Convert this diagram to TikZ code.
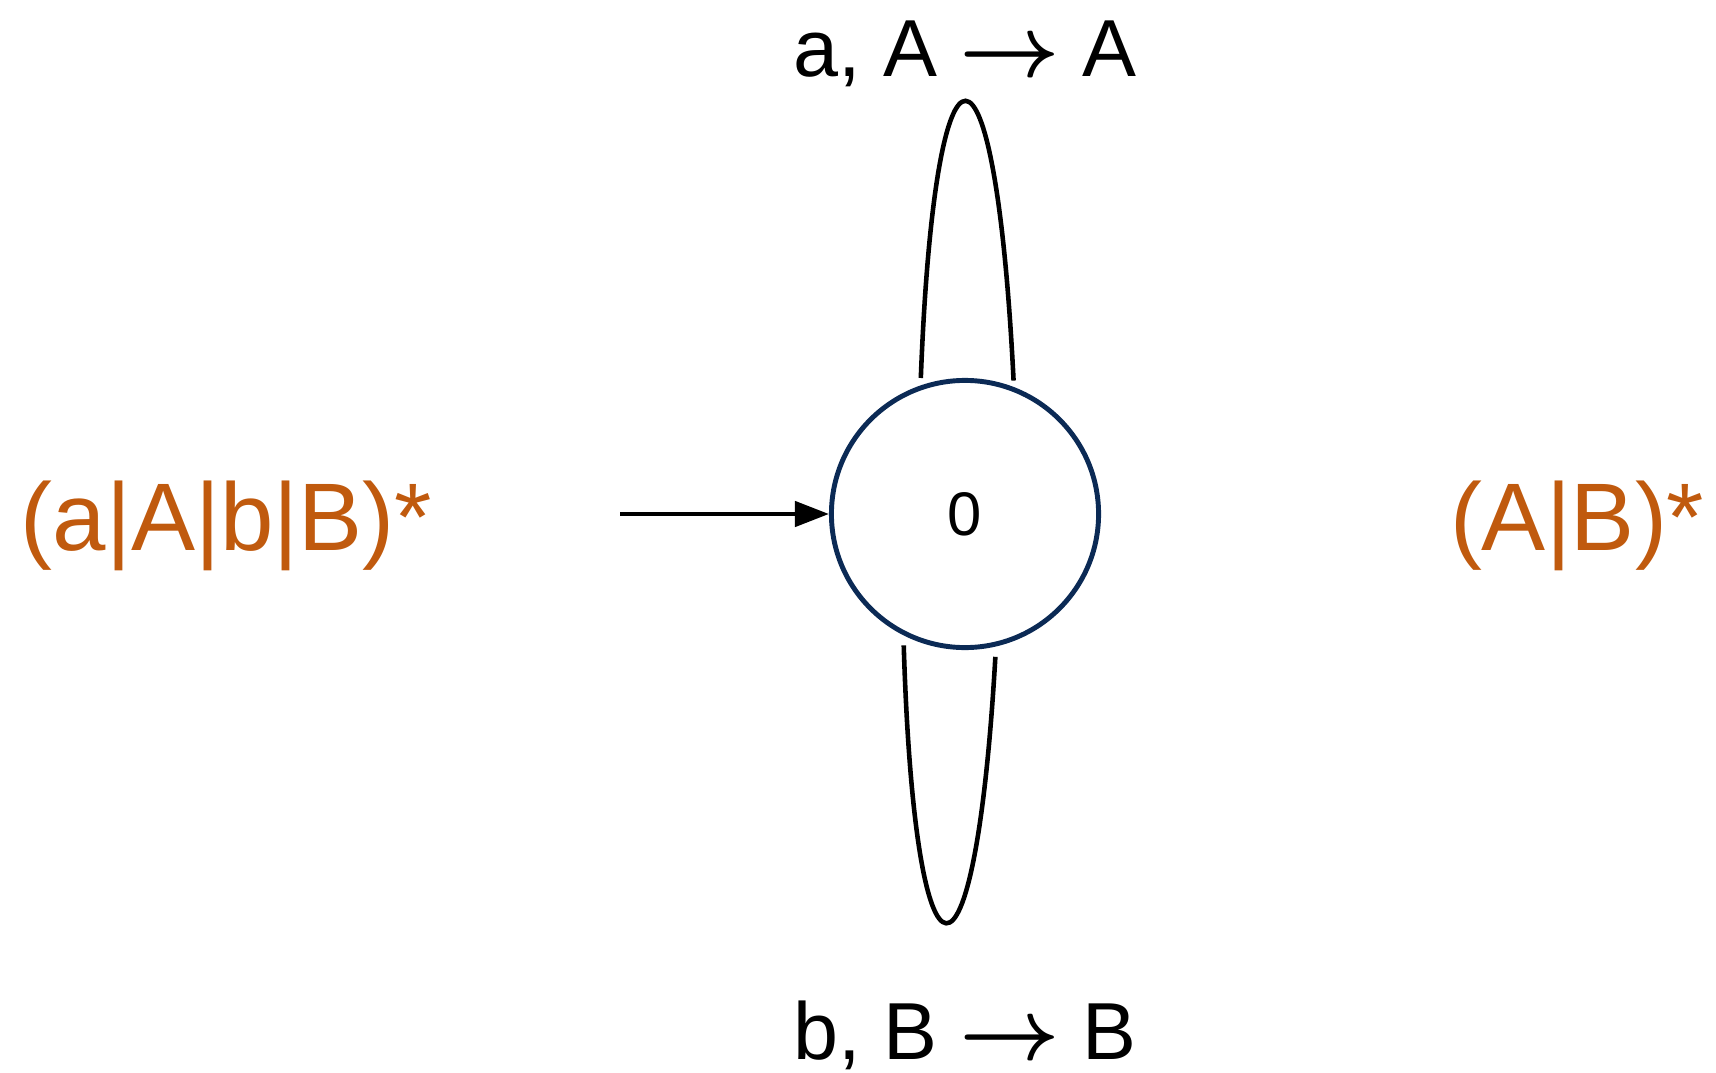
\documentclass[tikz,border=0pt]{standalone}
\usepackage{fontspec}
\setmainfont{Liberation Sans}
\usetikzlibrary{arrows.meta,calc}
\definecolor{stateNavy}{HTML}{0B2A55}
\definecolor{regexOrange}{HTML}{C05A0E}
\definecolor{edgeInk}{HTML}{000000}
\newcommand{\mapsArrow}{{\boldmath$\rightarrow$}}
\tikzset{
  stateCircle/.style={
    circle,
    draw=stateNavy,
    line width=1.4pt,
    minimum size=2.67cm,
    inner sep=0pt,
    font=\fontsize{17.5}{20}\selectfont
  },
  loopLine/.style={
    line width=1.3pt,
    draw=edgeInk
  },
  entryArrow/.style={
    -{Triangle[length=3.4mm,width=2.5mm]},
    line width=1.3pt,
    draw=edgeInk
  },
  edgeLabel/.style={
    inner sep=0pt,
    anchor=base,
    font=\fontsize{23}{26}\selectfont
  },
  regexLabel/.style={
    inner sep=0pt,
    text=regexOrange,
    font=\fontsize{27.3}{31}\selectfont
  }
}

\begin{document}
\begin{tikzpicture}[x=0.01cm,y=0.01cm]
  \useasboundingbox (0,0) rectangle (1716,1072);
  \node[stateCircle] (q0) at (965,558) {0};
  \coordinate (entry) at (620,558);
  \draw[entryArrow] (entry) -- (q0.west);
  % self loops, drawn apart from the circle
  \draw[loopLine] ($(q0)+(108:143)$) .. controls (935,1064) and (995,1064) .. ($(q0)+(70:142)$);
  \draw[loopLine] ($(q0)+(245:145)$) .. controls (915,58) and (975,58) .. ($(q0)+(282:146)$);
  \node[edgeLabel] (topLabel) at (965,995) {a, A \mapsArrow{} A};
  \node[edgeLabel] (bottomLabel) at (965,13) {b, B \mapsArrow{} B};
  \node[regexLabel,anchor=base west] (inRegex) at (20,522) {(a|A|b|B)*};
  \node[regexLabel,anchor=base east] (outRegex) at (1705,522) {(A|B)*};
\end{tikzpicture}
\end{document}
